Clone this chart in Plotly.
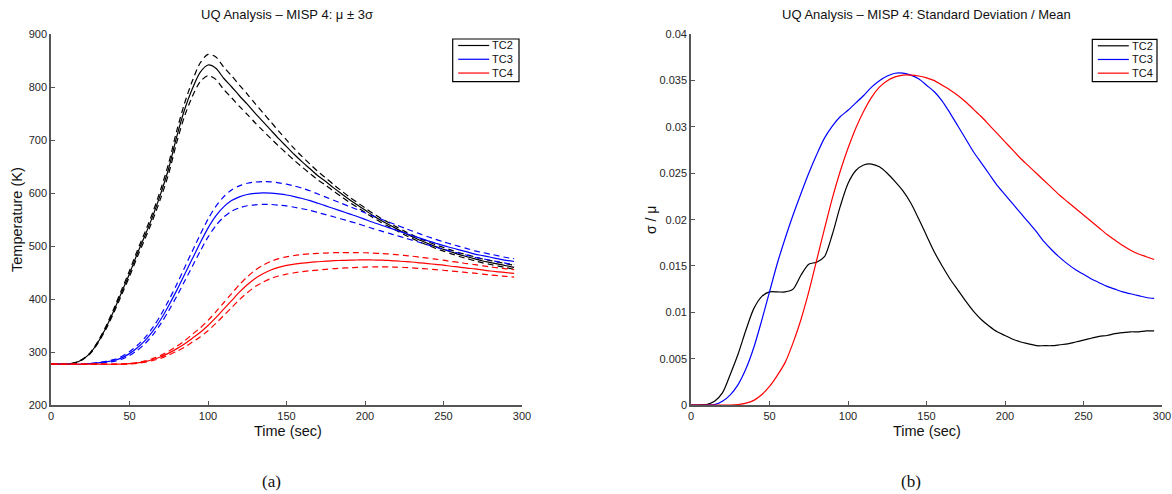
import plotly.graph_objects as go

# Sampling times (s)
time_s = [0, 5, 10, 15, 20, 25, 30, 35, 40, 45, 50, 55, 60, 65, 70, 75, 80, 85, 90, 95,
          100, 105, 110, 115, 120, 125, 130, 135, 140, 145, 150, 155, 160, 165, 170, 175,
          180, 185, 190, 195, 200, 205, 210, 215, 220, 225, 230, 235, 240, 245, 250, 255,
          260, 265, 270, 275, 280, 285, 290, 295]

# Mean temperature (K) per thermocouple
mean_tc2 = [277, 277, 277, 279.5, 286, 298, 319, 346, 378, 413, 448, 486, 521, 558, 600, 647,
            706, 757, 797, 828, 842, 836, 817, 801, 784, 768, 751, 735, 719, 703, 688, 673,
            659, 646, 633, 622, 610, 599, 588, 578, 568, 558, 549, 541, 533, 525, 518, 511,
            505, 499, 494, 489, 484, 480, 476, 472, 469, 466, 463, 460]
mean_tc3 = [277, 277, 277, 277, 277, 278, 279.5, 281.5, 284, 289, 297, 308, 322, 340, 362, 388,
            416, 446, 476, 506, 534, 557, 574, 586, 593, 597.5, 599.5, 600.5, 600, 598.5, 596.5,
            593.5, 590, 586, 581, 576, 571, 566, 561, 556, 550.5, 545, 540, 535, 530, 525,
            520, 515, 510, 505.5, 501, 497, 493, 489, 485, 482, 479, 476, 473, 471]
mean_tc4 = [277, 277, 277, 277, 277, 277, 277, 277, 277, 277.3, 278, 279.5, 282, 286, 291, 298,
            306, 315, 326, 337, 350, 365, 381, 397, 413, 427, 439, 448, 455, 460, 463.5, 466,
            468, 469.5, 470.5, 471.5, 472.5, 473, 473.5, 473.8, 474, 473.8, 473.5, 473, 472,
            471, 470, 468.5, 467, 465.5, 464, 462, 460.5, 458.5, 457, 455, 453, 451.5, 450,
            448.5]

# Coefficient of variation (sigma / mu) per thermocouple
cv_tc2 = [0, 0, 0.00005, 0.0004, 0.0013, 0.0033, 0.0055, 0.0081, 0.0104, 0.0117, 0.0122,
          0.0122, 0.0122, 0.0125, 0.0140, 0.0152, 0.0154, 0.0160, 0.0184, 0.0214, 0.0239,
          0.0253, 0.0259, 0.0260, 0.0257, 0.0250, 0.0241, 0.0231, 0.0218, 0.0201, 0.0183,
          0.0165, 0.0150, 0.0136, 0.0124, 0.0112, 0.0101, 0.0092, 0.0085, 0.0079, 0.0075,
          0.0071, 0.0068, 0.0066, 0.0064, 0.0064, 0.0064, 0.0065, 0.0066, 0.0068, 0.0070,
          0.0072, 0.0074, 0.0075, 0.0077, 0.0078, 0.0079, 0.0079, 0.0080, 0.0080]
cv_tc3 = [0, 0, 0, 0.00005, 0.0004, 0.0011, 0.0022, 0.0039, 0.0062, 0.0091, 0.0122, 0.0153,
          0.0180, 0.0205, 0.0228, 0.0250, 0.0270, 0.0288, 0.0301, 0.0311, 0.0318, 0.0326,
          0.0334, 0.0343, 0.0350, 0.0355, 0.0358, 0.0358, 0.0356, 0.0352, 0.0345, 0.0338,
          0.0328, 0.0315, 0.0301, 0.0287, 0.0273, 0.0261, 0.0249, 0.0237, 0.0227, 0.0217,
          0.0207, 0.0197, 0.0187, 0.0176, 0.0167, 0.0159, 0.0152, 0.0146, 0.0141, 0.0136,
          0.0132, 0.0128, 0.0125, 0.0122, 0.0120, 0.0118, 0.0116, 0.0115]
cv_tc4 = [0, 0, 0, 0, 0, 0, 0.00005, 0.0002, 0.0005, 0.0011, 0.0020, 0.0032, 0.0046, 0.0067,
          0.0092, 0.0122, 0.0156, 0.0190, 0.0223, 0.0252, 0.0277, 0.0299, 0.0317, 0.0332,
          0.0343, 0.0350, 0.0354, 0.0356, 0.0356, 0.0355, 0.0353, 0.0350, 0.0345, 0.0340,
          0.0334, 0.0327, 0.0319, 0.0311, 0.0302, 0.0293, 0.0284, 0.0275, 0.0266, 0.0258,
          0.0250, 0.0242, 0.0234, 0.0226, 0.0219, 0.0212, 0.0205, 0.0198, 0.0191, 0.0184,
          0.0178, 0.0172, 0.0167, 0.0163, 0.0160, 0.0157]

names = ["TC2", "TC3", "TC4"]
means = [mean_tc2, mean_tc3, mean_tc4]
cvs = [cv_tc2, cv_tc3, cv_tc4]
colors = ["#000000", "#0000ff", "#ff0000"]

x_ticks = [0, 50, 100, 150, 200, 250, 300]
temp_ticks = [200, 300, 400, 500, 600, 700, 800, 900]
cv_ticks = [0, 0.005, 0.01, 0.015, 0.02, 0.025, 0.03, 0.035, 0.04]
cv_tick_text = ["0", "0.005", "0.01", "0.015", "0.02", "0.025", "0.03", "0.035", "0.04"]

W, H = 1172, 494
SANS = "Liberation Sans, Arial, sans-serif"
SERIF = "Liberation Serif, DejaVu Serif, serif"
LW = 1.2
SPLINE = dict(shape="spline", smoothing=0.8)


def px(x):
    return x / W


def py(y):
    return 1 - y / H


fig = go.Figure()

# Left panel: mean and mean +/- sigma bands
for name, mu, cv, col in zip(names, means, cvs, colors):
    upper = [m * (1 + c) for m, c in zip(mu, cv)]
    lower = [m * (1 - c) for m, c in zip(mu, cv)]
    fig.add_trace(go.Scatter(x=time_s, y=mu, mode="lines", name=name, showlegend=False,
                             line=dict(color=col, width=LW, **SPLINE),
                             xaxis="x", yaxis="y"))
    for band in (upper, lower):
        fig.add_trace(go.Scatter(x=time_s, y=band, mode="lines", showlegend=False,
                                 line=dict(color=col, width=LW, dash="6px,4px", **SPLINE),
                                 xaxis="x", yaxis="y", hoverinfo="skip"))

# Right panel: sigma / mu
for name, cv, col in zip(names, cvs, colors):
    fig.add_trace(go.Scatter(x=time_s, y=cv, mode="lines", name=name, showlegend=False,
                             line=dict(color=col, width=LW, **SPLINE),
                             xaxis="x2", yaxis="y2"))

axis_common = dict(showgrid=False, zeroline=False, showline=True, linecolor="#555555",
                   linewidth=1.6, ticks="inside", ticklen=4, tickwidth=1.2,
                   tickcolor="#555555", mirror=False, automargin=False,
                   tickfont=dict(family=SANS, size=11, color="#262626"))

x_dom_l = [px(51), px(522)]
x_dom_r = [px(691), px(1162)]
y_dom = [py(405), py(34.3)]

fig.update_layout(
    template="none",
    width=W, height=H,
    margin=dict(l=0, r=0, t=0, b=0, pad=0, autoexpand=False),
    paper_bgcolor="white", plot_bgcolor="white",
    showlegend=False,
    xaxis=dict(domain=x_dom_l, range=[0, 300], tickvals=x_ticks, anchor="y", **axis_common),
    yaxis=dict(domain=y_dom, range=[200, 900], tickvals=temp_ticks, anchor="x", **axis_common),
    xaxis2=dict(domain=x_dom_r, range=[0, 300], tickvals=x_ticks, anchor="y2", **axis_common),
    yaxis2=dict(domain=y_dom, range=[0, 0.04], tickvals=cv_ticks, ticktext=cv_tick_text,
                anchor="x2", **axis_common),
)


def label(text, xpx, ypx, size, family=SANS, angle=0, xanchor="center"):
    fig.add_annotation(text=text, x=px(xpx), y=py(ypx), xref="paper", yref="paper",
                       showarrow=False, textangle=angle, xanchor=xanchor, yanchor="middle",
                       font=dict(family=family, size=size, color="#111111"))


# Boxed key: one sample line and name per series
def key_box(left, right, top, bottom):
    fig.add_shape(type="rect", xref="paper", yref="paper",
                  x0=px(left), x1=px(right), y0=py(bottom), y1=py(top),
                  line=dict(color="#000000", width=1.2), fillcolor="white")
    row_gap = (bottom - top) / 3.1
    for i, (name, col) in enumerate(zip(names, colors)):
        yrow = top + 6.5 + i * row_gap
        fig.add_shape(type="line", xref="paper", yref="paper",
                      x0=px(left + 5.5), x1=px(left + 36.5), y0=py(yrow), y1=py(yrow),
                      line=dict(color=col, width=LW))
        label(name, left + 37.5, yrow, 11, xanchor="left")


key_box(452.7, 519, 39, 81.7)
key_box(1092.3, 1157, 39.3, 81.7)

label("UQ Analysis \u2013 MISP 4: \u03bc \u00b1 3\u03c3", 286.5, 14, 13)
label("UQ Analysis \u2013 MISP 4: Standard Deviation / Mean", 926.6, 14, 13)
label("Time (sec)", 287.5, 431, 14.5)
label("Time (sec)", 927, 431, 14.5)
label("Temperature (K)", 17, 220, 14.5, angle=-90)
label("\u03c3 / \u03bc", 651, 220, 14, angle=-90)
label("(a)", 271, 481, 17, family=SERIF)
label("(b)", 911, 481, 17, family=SERIF)

fig.write_html("out.html")
